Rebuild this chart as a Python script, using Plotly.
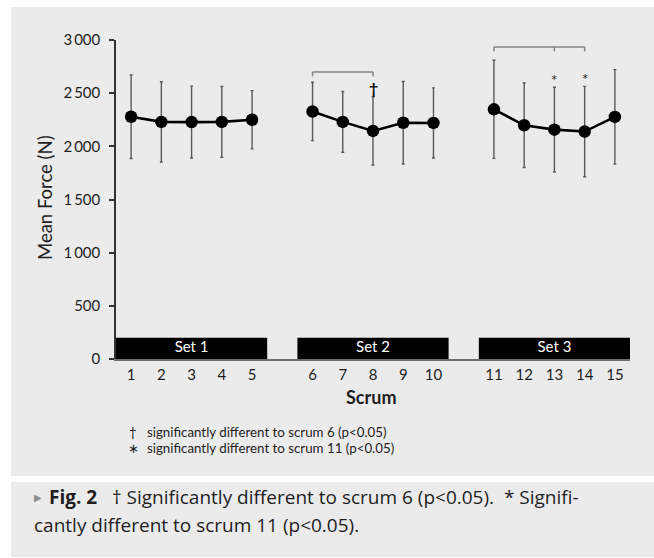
import plotly.graph_objects as go

# ---------------- data ----------------
scrum = list(range(1, 16))
set_of_scrum = [1] * 5 + [2] * 5 + [3] * 5
mean_force = [2278, 2230, 2228, 2230, 2250, 2328, 2230, 2145, 2222, 2220,
              2348, 2198, 2157, 2139, 2277]
sd_force = [393, 377, 338, 332, 274, 274, 286, 320, 388, 330,
            461, 397, 398, 425, 444]
set_names = ["Set 1", "Set 2", "Set 3"]
set_bar_height = 200
y_tickvals = [0, 500, 1000, 1500, 2000, 2500, 3000]
y_ticktext = ["0", "500", "1\u2009000", "1\u2009500", "2\u2009000", "2\u2009500", "3\u2009000"]
dagger_scrums = [8]
star_scrums = [13, 14]
brackets = [
    {"scrums": [6, 8], "y": 2700},
    {"scrums": [11, 13, 14], "y": 2935},
]
bracket_drop = 42
legend_lines = [("†", "significantly different to scrum 6 (p<0.05)"),
                ("∗", "significantly different to scrum 11 (p<0.05)")]
caption_line1 = "<b>Fig. 2</b>\u00a0\u00a0\u00a0† Significantly different to scrum 6 (p<0.05).\u00a0\u00a0* Signifi-"
caption_line2 = "cantly different to scrum 11 (p<0.05)."

FONT = "Lato, 'Open Sans', sans-serif"
CAP_FONT = "'Open Sans', Lato, sans-serif"
PANEL = "#ebebec"
TXT = "#1e1e1e"


# x slot: one empty slot between sets
def slot_of(s):
    return s + set_of_scrum[s - 1] - 1


slots = [slot_of(s) for s in scrum]

# pixel helpers for layout placement
W, H = 654, 558
L, R, T, B = 116, 24, 40, 199
PW, PH = W - L - R, H - T - B


def px(x):
    return (x - L) / PW


def py(y):
    return (H - B - y) / PH


fig = go.Figure()

# set bars along the bottom
set_centers = []
for k in range(3):
    xs = [slots[i] for i in range(15) if set_of_scrum[i] == k + 1]
    set_centers.append(sum(xs) / len(xs))
fig.add_trace(go.Bar(x=set_centers, y=[set_bar_height] * 3, width=5,
                     marker=dict(color="black", line=dict(width=0)),
                     hoverinfo="skip", showlegend=False))
fig.add_trace(go.Scatter(x=set_centers, y=[set_bar_height / 2] * 3, mode="text",
                         text=set_names,
                         textfont=dict(family=FONT, size=15, color="white"),
                         hoverinfo="skip", showlegend=False))

# brackets
bx, by = [], []
for b in brackets:
    xs = [slot_of(s) for s in b["scrums"]]
    bx += [xs[0], xs[-1], None]
    by += [b["y"], b["y"], None]
    for x in xs:
        bx += [x, x, None]
        by += [b["y"], b["y"] - bracket_drop, None]
fig.add_trace(go.Scatter(x=bx, y=by, mode="lines",
                         line=dict(color="#858585", width=1.5),
                         hoverinfo="skip", showlegend=False))

# mean line with gaps between sets
lx, ly = [], []
for k in range(3):
    for i in range(15):
        if set_of_scrum[i] == k + 1:
            lx.append(slots[i])
            ly.append(mean_force[i])
    lx.append(None)
    ly.append(None)
fig.add_trace(go.Scatter(x=lx, y=ly, mode="lines",
                         line=dict(color="black", width=2.6),
                         hoverinfo="skip", showlegend=False))

# points + error bars
fig.add_trace(go.Scatter(x=slots, y=mean_force, mode="markers",
                         marker=dict(color="black", size=12.5),
                         error_y=dict(type="data", array=sd_force, visible=True,
                                      color="#5a5a5a", thickness=1.4, width=1.5),
                         hoverinfo="skip", showlegend=False))

annotations = []
for s in dagger_scrums:
    i = s - 1
    annotations.append(dict(x=slots[i], y=mean_force[i] + sd_force[i], xref="x", yref="y",
                            text="<b>†</b>", showarrow=False, yanchor="bottom", yshift=-2,
                            font=dict(family=FONT, size=16, color="#111111")))
for s in star_scrums:
    i = s - 1
    annotations.append(dict(x=slots[i], y=mean_force[i] + sd_force[i], xref="x", yref="y",
                            text="*", showarrow=False, yanchor="bottom", yshift=-4,
                            font=dict(family=FONT, size=15, color=TXT)))

# axis titles
annotations.append(dict(x=px(45), y=py(198), xref="paper", yref="paper",
                        text="Mean Force (N)", textangle=-90, showarrow=False,
                        xanchor="center", yanchor="middle",
                        font=dict(family=FONT, size=18.5, color=TXT)))
annotations.append(dict(x=px(371), y=py(397), xref="paper", yref="paper",
                        text="<b>Scrum</b>", showarrow=False,
                        xanchor="center", yanchor="middle",
                        font=dict(family=FONT, size=18, color=TXT)))

# footnote legend
for j, (sym, txt) in enumerate(legend_lines):
    yc = 431.5 + 16 * j
    annotations.append(dict(x=px(133), y=py(yc), xref="paper", yref="paper",
                            text=sym, showarrow=False, xanchor="center", yanchor="middle",
                            font=dict(family=FONT, size=13.3, color=TXT)))
    annotations.append(dict(x=px(145), y=py(yc), xref="paper", yref="paper",
                            text=txt, showarrow=False, xanchor="left", yanchor="middle",
                            font=dict(family=FONT, size=13.3, color=TXT)))

# caption
annotations.append(dict(x=px(38), y=py(497), xref="paper", yref="paper",
                        text="▶", showarrow=False, xanchor="center", yanchor="middle",
                        font=dict(family="DejaVu Sans", size=10, color="#8c8c8c")))
annotations.append(dict(x=px(47), y=py(497), xref="paper", yref="paper",
                        text=caption_line1, showarrow=False, xanchor="left", yanchor="middle",
                        font=dict(family=CAP_FONT, size=19, color=TXT)))
annotations.append(dict(x=px(32), y=py(525), xref="paper", yref="paper",
                        text=caption_line2, showarrow=False, xanchor="left", yanchor="middle",
                        font=dict(family=CAP_FONT, size=19, color=TXT)))

shapes = [
    dict(type="rect", xref="paper", yref="paper", layer="below",
         x0=px(11), x1=px(654), y0=py(476), y1=py(7), fillcolor=PANEL, line=dict(width=0)),
    dict(type="rect", xref="paper", yref="paper", layer="below",
         x0=px(11), x1=px(654), y0=py(557), y1=py(482), fillcolor=PANEL, line=dict(width=0)),
]

fig.update_layout(
    width=W, height=H,
    margin=dict(l=L, r=R, t=T, b=B, pad=0),
    paper_bgcolor="white", plot_bgcolor="rgba(0,0,0,0)",
    showlegend=False, hovermode=False,
    font=dict(family=FONT, color=TXT),
    annotations=annotations, shapes=shapes,
    xaxis=dict(range=[0.5, 17.5], tickvals=slots, ticktext=[str(s) for s in scrum],
               showgrid=False, zeroline=False, showline=True, linecolor="#6e6e6e",
               linewidth=1.5, ticks="", tickfont=dict(family=FONT, size=15, color=TXT),
               ticklabelstandoff=1),
    yaxis=dict(range=[0, 3000], tickvals=y_tickvals, ticktext=y_ticktext,
               showgrid=False, zeroline=False, showline=True, linecolor="#333333",
               linewidth=1.5, ticks="outside", ticklen=5, tickwidth=1.5, tickcolor="#333333",
               tickfont=dict(family=FONT, size=15, color=TXT), ticklabelstandoff=6),
)

fig.write_html("out.html", config={"displayModeBar": False},
               post_script="document.body.style.margin='0';document.body.style.overflow='hidden';")
